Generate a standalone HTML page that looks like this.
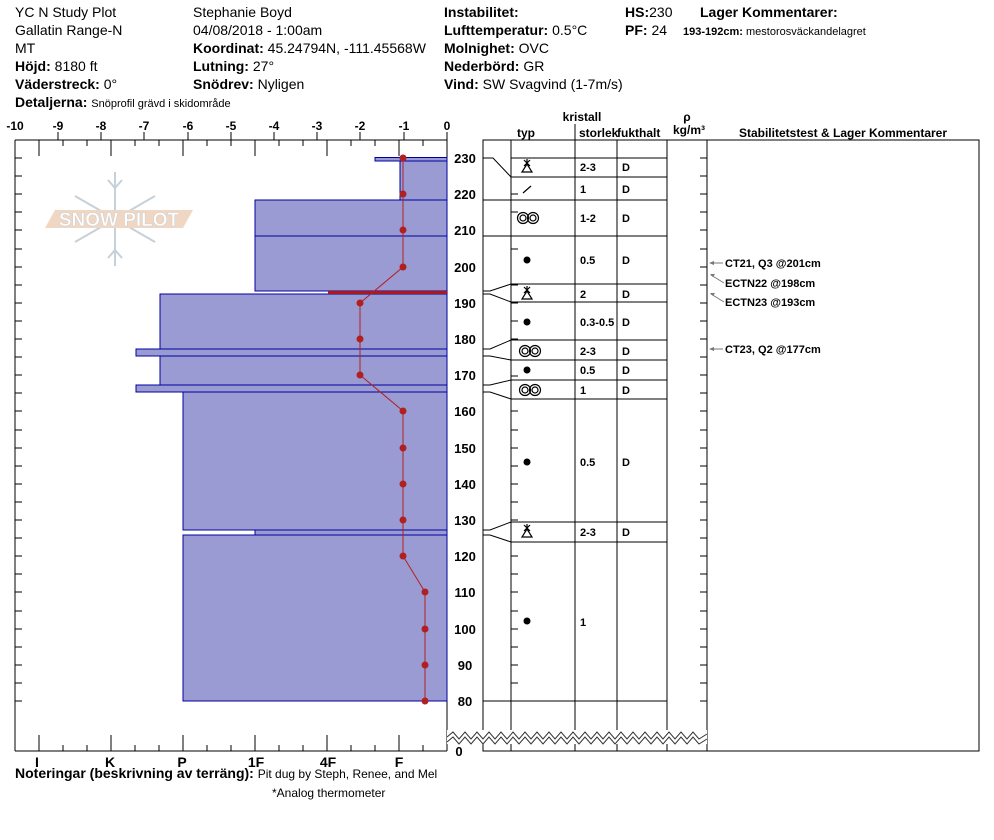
<!DOCTYPE html>
<html><head><meta charset="utf-8"><style>
body{margin:0;background:#fff;}
svg{display:block;font-family:"Liberation Sans",Arial,sans-serif;}
.h{font-size:14px;fill:#000}
.b{font-weight:bold}
.s{font-size:11px;font-weight:bold}
.t{font-size:12px;font-weight:bold}
</style></head><body>
<svg width="994" height="840" viewBox="0 0 994 840" xmlns="http://www.w3.org/2000/svg">
<g class="h">
<text x="15" y="17">YC N Study Plot</text>
<text x="15" y="35">Gallatin Range-N</text>
<text x="15" y="53">MT</text>
<text x="15" y="71"><tspan class="b">Höjd:</tspan> 8180 ft</text>
<text x="15" y="89"><tspan class="b">Väderstreck:</tspan> 0°</text>
<text x="15" y="107"><tspan class="b">Detaljerna:</tspan> <tspan font-size="11">Snöprofil grävd i skidområde</tspan></text>
<text x="193" y="17">Stephanie  Boyd</text>
<text x="193" y="35">04/08/2018 - 1:00am</text>
<text x="193" y="53"><tspan class="b">Koordinat:</tspan> 45.24794N, -111.45568W</text>
<text x="193" y="71"><tspan class="b">Lutning:</tspan> 27°</text>
<text x="193" y="89"><tspan class="b">Snödrev:</tspan> Nyligen</text>
<text x="444" y="17" class="b">Instabilitet:</text>
<text x="444" y="35"><tspan class="b">Lufttemperatur:</tspan> 0.5°C</text>
<text x="444" y="53"><tspan class="b">Molnighet:</tspan> OVC</text>
<text x="444" y="71"><tspan class="b">Nederbörd:</tspan> GR</text>
<text x="444" y="89"><tspan class="b">Vind:</tspan>  SW Svagvind (1-7m/s)</text>
<text x="625" y="17"><tspan class="b">HS:</tspan>230</text>
<text x="625" y="35"><tspan class="b">PF:</tspan> 24</text>
<text x="700" y="17" class="b">Lager Kommentarer:</text>
<text x="683" y="35" font-size="11"><tspan class="b">193-192cm:</tspan> mestorosväckandelagret</text>
</g>

<g stroke="#c6d0d8" stroke-width="2" fill="none">
<line x1="115" y1="172" x2="115" y2="266"/>
<line x1="75" y1="196" x2="155" y2="242"/>
<line x1="75" y1="242" x2="155" y2="196"/>
<polyline points="108,180 115,188 122,180"/><polyline points="108,258 115,250 122,258"/>
</g>
<polygon points="45,228 55,210 193,210 183,228" fill="#efd7c4"/>
<text x="119" y="226" font-size="19" fill="#fff" text-anchor="middle" stroke="#ccc" stroke-width="0.5" font-weight="bold">SNOW PILOT</text>

<g font-size="12" font-weight="bold" text-anchor="middle">
<text x="15" y="130">-10</text><text x="58" y="130">-9</text><text x="101" y="130">-8</text><text x="144" y="130">-7</text><text x="188" y="130">-6</text><text x="231" y="130">-5</text><text x="274" y="130">-4</text><text x="317" y="130">-3</text><text x="360" y="130">-2</text><text x="404" y="130">-1</text><text x="447" y="130">0</text>
</g>
<g stroke="#000" stroke-width="1">
<line x1="15" y1="140" x2="447" y2="140"/>
<line x1="15" y1="140" x2="15" y2="751"/>
<line x1="447" y1="140" x2="447" y2="751"/>
<line x1="15" y1="751" x2="447" y2="751"/>
<path d="M58 132V140M101 132V140M144 132V140M188 132V140M231 132V140M274 132V140M317 132V140M360 132V140M404 132V140M447 132V140"/>
<path d="M39 140V156M111 140V156M183 140V156M255 140V156M327 140V156M399 140V156"/>
<path d="M63 140V146M87 140V146M135 140V146M159 140V146M207 140V146M231 140V146M279 140V146M303 140V146M351 140V146M375 140V146M423 140V146"/>
<path d="M39 751V735M111 751V735M183 751V735M255 751V735M327 751V735M399 751V735"/>
<path d="M63 751V745M87 751V745M135 751V745M159 751V745M207 751V745M231 751V745M279 751V745M303 751V745M351 751V745M375 751V745M423 751V745"/>
<path d="M15 158h7M15 176h7M15 194h7M15 212h7M15 230h7M15 249h7M15 267h7M15 285h7M15 303h7M15 321h7M15 339h7M15 357h7M15 375h7M15 393h7M15 411h7M15 430h7M15 448h7M15 466h7M15 484h7M15 502h7M15 520h7M15 538h7M15 556h7M15 574h7M15 592h7M15 611h7M15 629h7M15 647h7M15 665h7M15 683h7M15 701h7"/>
<path d="M440 158h7M440 176h7M440 194h7M440 212h7M440 230h7M440 249h7M440 267h7M440 285h7M440 303h7M440 321h7M440 339h7M440 357h7M440 375h7M440 393h7M440 411h7M440 430h7M440 448h7M440 466h7M440 484h7M440 502h7M440 520h7M440 538h7M440 556h7M440 574h7M440 592h7M440 611h7M440 629h7M440 647h7M440 665h7M440 683h7M440 701h7"/>
</g>
<g font-size="14" font-weight="bold" text-anchor="middle">
<text x="37" y="767">I</text><text x="110" y="767">K</text><text x="182" y="767">P</text><text x="256" y="767">1F</text><text x="328" y="767">4F</text><text x="399" y="767">F</text>
</g>
<text x="15" y="778" font-size="14" font-weight="bold">Noteringar (beskrivning av terräng): <tspan font-weight="normal" font-size="12">Pit dug by Steph, Renee, and Mel</tspan></text>
<text x="272" y="797" font-size="12">*Analog thermometer</text>

<g fill="#9b9bd4" stroke="#0000a0" stroke-width="1">
<rect x="375" y="157.5" width="72" height="3.5"/>
<rect x="400" y="161" width="47" height="39"/>
<rect x="255" y="200" width="192" height="36"/>
<rect x="255" y="236" width="192" height="55"/>
<rect x="160" y="294" width="287" height="55"/>
<rect x="136" y="349" width="311" height="7"/>
<rect x="160" y="356" width="287" height="29"/>
<rect x="136" y="385" width="311" height="7"/>
<rect x="183" y="392" width="264" height="138"/>
<rect x="255" y="530" width="192" height="5"/>
<rect x="183" y="535" width="264" height="166"/>
</g>
<rect x="328" y="291" width="119" height="3" fill="#b01818"/>
<polyline points="403,158 403,194 403,230 403,267 360,303 360,339 360,375 403,411 403,448 403,484 403,520 403,556 425,592 425,629 425,665 425,701" fill="none" stroke="#b02020" stroke-width="1"/>
<g fill="#b02020">
<circle cx="403" cy="158" r="3.5"/><circle cx="403" cy="194" r="3.5"/><circle cx="403" cy="230" r="3.5"/><circle cx="403" cy="267" r="3.5"/><circle cx="360" cy="303" r="3.5"/><circle cx="360" cy="339" r="3.5"/><circle cx="360" cy="375" r="3.5"/><circle cx="403" cy="411" r="3.5"/><circle cx="403" cy="448" r="3.5"/><circle cx="403" cy="484" r="3.5"/><circle cx="403" cy="520" r="3.5"/><circle cx="403" cy="556" r="3.5"/><circle cx="425" cy="592" r="3.5"/><circle cx="425" cy="629" r="3.5"/><circle cx="425" cy="665" r="3.5"/><circle cx="425" cy="701" r="3.5"/>
</g>

<g font-size="13" font-weight="bold" text-anchor="middle">
<text x="465" y="163">230</text><text x="465" y="199">220</text><text x="465" y="235">210</text><text x="465" y="272">200</text><text x="465" y="308">190</text><text x="465" y="344">180</text><text x="465" y="380">170</text><text x="465" y="416">160</text><text x="465" y="453">150</text><text x="465" y="489">140</text><text x="465" y="525">130</text><text x="465" y="561">120</text><text x="465" y="597">110</text><text x="465" y="634">100</text><text x="465" y="670">90</text><text x="465" y="706">80</text><text x="459" y="756">0</text>
</g>

<g font-size="12" font-weight="bold">
<text x="582" y="121" text-anchor="middle">kristall</text>
<text x="526" y="137" text-anchor="middle">typ</text>
<text x="579" y="137">storlek</text>
<text x="617" y="137">fukthalt</text>
<text x="687" y="121" text-anchor="middle">ρ</text>
<text x="689" y="134" text-anchor="middle">kg/m³</text>
<text x="843" y="137" text-anchor="middle">Stabilitetstest &amp; Lager Kommentarer</text>
</g>
<g stroke="#000" stroke-width="1" fill="none">
<line x1="575" y1="124" x2="575" y2="140"/>
<rect x="483" y="140" width="496" height="611" fill="none"/>
<path d="M511 140V751M575 140V751M617 140V751M667 140V751M707 140V751"/>
<path d="M511 158H667M511 177H667M511 200H667M511 236H667M511 284H667M511 302H667M511 340H667M511 360H667M511 380H667M511 399H667M511 522H667M511 542H667M483 701H667"/>
<path d="M483 158H493L511 177M483 200H511M483 236H511M483 291H490L511 284M483 294H490L511 302M483 349H490L511 340M483 356H490L511 360M483 385H490L511 380M483 392H490L511 399M483 530H490L511 522M483 535H490L511 542"/>
<path d="M511 212h7M511 249h7M511 285h7M511 303h7M511 321h7M511 339h7M511 376h7M511 411h7M511 430h7M511 448h7M511 466h7M511 484h7M511 502h7M511 520h7M511 556h7M511 574h7M511 592h7M511 611h7M511 629h7M511 647h7M511 665h7M511 683h7M511 194h7"/>
<path d="M700 158h7M700 176h7M700 194h7M700 212h7M700 230h7M700 249h7M700 267h7M700 285h7M700 303h7M700 321h7M700 339h7M700 357h7M700 375h7M700 393h7M700 411h7M700 430h7M700 448h7M700 466h7M700 484h7M700 502h7M700 520h7M700 538h7M700 556h7M700 574h7M700 592h7M700 611h7M700 629h7M700 647h7M700 665h7M700 683h7M700 701h7"/>
</g>
<rect x="447" y="730" width="260" height="14" fill="#fff"/>
<polyline points="447,737 453,732 459,739 465,732 471,739 477,732 483,739 489,732 495,739 501,732 507,739 513,732 519,739 525,732 531,739 537,732 543,739 549,732 555,739 561,732 567,739 573,732 579,739 585,732 591,739 597,732 603,739 609,732 615,739 621,732 627,739 633,732 639,739 645,732 651,739 657,732 663,739 669,732 675,739 681,732 687,739 693,732 699,739 707,734" fill="none" stroke="#333" stroke-width="1"/>
<polyline points="447,742 453,737 459,744 465,737 471,744 477,737 483,744 489,737 495,744 501,737 507,744 513,737 519,744 525,737 531,744 537,737 543,744 549,737 555,744 561,737 567,744 573,737 579,744 585,737 591,744 597,737 603,744 609,737 615,744 621,737 627,744 633,737 639,744 645,737 651,744 657,737 663,744 669,737 675,744 681,737 687,744 693,737 699,744 707,739" fill="none" stroke="#333" stroke-width="1"/>

<g stroke="#000" stroke-width="1.2" fill="none">
<g transform="translate(527,167)"><path d="M-5 5H5L0 -3Z M-3 -7L3 -1M3 -7L-3 -1M0 -8V-2"/></g>
<g transform="translate(527,294)"><path d="M-5 5H5L0 -3Z M-3 -7L3 -1M3 -7L-3 -1M0 -8V-2"/></g>
<g transform="translate(527,532)"><path d="M-5 5H5L0 -3Z M-3 -7L3 -1M3 -7L-3 -1M0 -8V-2"/></g>
<line x1="523" y1="193" x2="531" y2="186"/>
<g transform="translate(528,218)"><circle cx="-5" cy="0" r="5.5"/><circle cx="-5" cy="0" r="3"/><circle cx="5" cy="0" r="5.5"/><circle cx="5" cy="0" r="3"/></g>
<g transform="translate(530,351)"><circle cx="-5" cy="0" r="5.5"/><circle cx="-5" cy="0" r="3"/><circle cx="5" cy="0" r="5.5"/><circle cx="5" cy="0" r="3"/></g>
<g transform="translate(530,390)"><circle cx="-5" cy="0" r="5.5"/><circle cx="-5" cy="0" r="3"/><circle cx="5" cy="0" r="5.5"/><circle cx="5" cy="0" r="3"/></g>
</g>
<g fill="#000"><circle cx="527" cy="260" r="3.5"/><circle cx="527" cy="322" r="3.5"/><circle cx="527" cy="370" r="3.5"/><circle cx="527" cy="462" r="3.5"/><circle cx="527" cy="621" r="3.5"/></g>
<g class="s">
<text x="580" y="171">2-3</text><text x="580" y="193">1</text><text x="580" y="222">1-2</text><text x="580" y="264">0.5</text><text x="580" y="298">2</text><text x="580" y="326">0.3-0.5</text><text x="580" y="355">2-3</text><text x="580" y="374">0.5</text><text x="580" y="394">1</text><text x="580" y="466">0.5</text><text x="580" y="536">2-3</text><text x="580" y="626">1</text>
<text x="622" y="171">D</text><text x="622" y="193">D</text><text x="622" y="222">D</text><text x="622" y="264">D</text><text x="622" y="298">D</text><text x="622" y="326">D</text><text x="622" y="355">D</text><text x="622" y="374">D</text><text x="622" y="394">D</text><text x="622" y="466">D</text><text x="622" y="536">D</text>
</g>
<g stroke="#777" stroke-width="1" fill="none">
<path d="M723 263H710M724 283L711 275M724 302L711 294M723 349H710"/>
</g>
<g fill="#777">
<path d="M709 263l5-2v4z"/><path d="M709 349l5-2v4z"/>
<path d="M710 274l5 0-2 3z"/><path d="M710 293l5 0-2 3z"/>
</g>
<g class="s">
<text x="725" y="267">CT21, Q3 @201cm</text>
<text x="725" y="287">ECTN22 @198cm</text>
<text x="725" y="306">ECTN23 @193cm</text>
<text x="725" y="353">CT23, Q2 @177cm</text>
</g>
</svg>
</body></html>
